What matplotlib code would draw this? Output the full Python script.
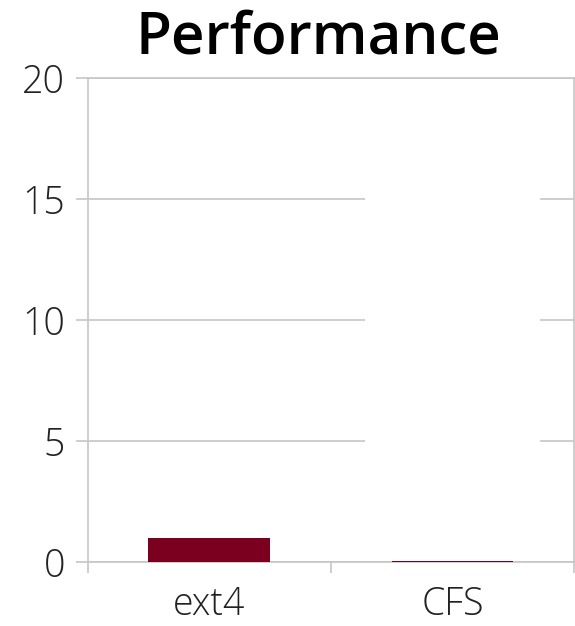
import matplotlib.pyplot as plt
from matplotlib.patches import Rectangle

categories = ['ext4', 'CFS']
values = [1.0, 0.03]
y_ticks = [0, 5, 10, 15, 20]

BAR_COLOR = '#7b0020'
GRID_COLOR = '#c6c6c6'

plt.rcParams['font.family'] = ['Open Sans', 'DejaVu Sans']

fig = plt.figure(figsize=(5.75, 6.26), dpi=100)
ax = fig.add_axes([87.5 / 575, 64 / 626, (574 - 87.5) / 575, (562 - 78) / 626])

x = list(range(len(categories)))
ax.bar(x, values, width=0.5, color=BAR_COLOR, zorder=3)

ax.set_xlim(-0.5, len(categories) - 0.5)
ax.set_ylim(0, 20)
ax.set_yticks(y_ticks)
ax.set_yticklabels([str(t) for t in y_ticks], fontsize=27, fontweight='light', color='#222222')
ax.set_xticks(x)
ax.set_xticklabels(categories, fontsize=27, fontweight='light', color='#222222')
ax.set_xticks([-0.5, 0.5, 1.5], minor=True)

ax.tick_params(axis='y', length=9, width=1.2, color=GRID_COLOR, pad=7)
ax.tick_params(axis='x', which='major', length=0, pad=17)
ax.tick_params(axis='x', which='minor', length=8, width=1.2, color=GRID_COLOR)

ax.set_axisbelow(True)
ax.yaxis.grid(True, color=GRID_COLOR, linewidth=1.2, zorder=0.5)

# blank patch over the gridlines in the right column, as in the source
ax.add_patch(Rectangle((0.571, 0.15), 0.36, 0.7, transform=ax.transAxes,
                       facecolor='white', edgecolor='none', zorder=1))

for side in ['left', 'right', 'top', 'bottom']:
    ax.spines[side].set_color(GRID_COLOR)
    ax.spines[side].set_linewidth(1.2)

fig.text(0.553, 0.938, 'Performance', ha='center', va='center',
         fontsize=42, fontweight='semibold', color='black')

fig.savefig('out.png', dpi=100)
